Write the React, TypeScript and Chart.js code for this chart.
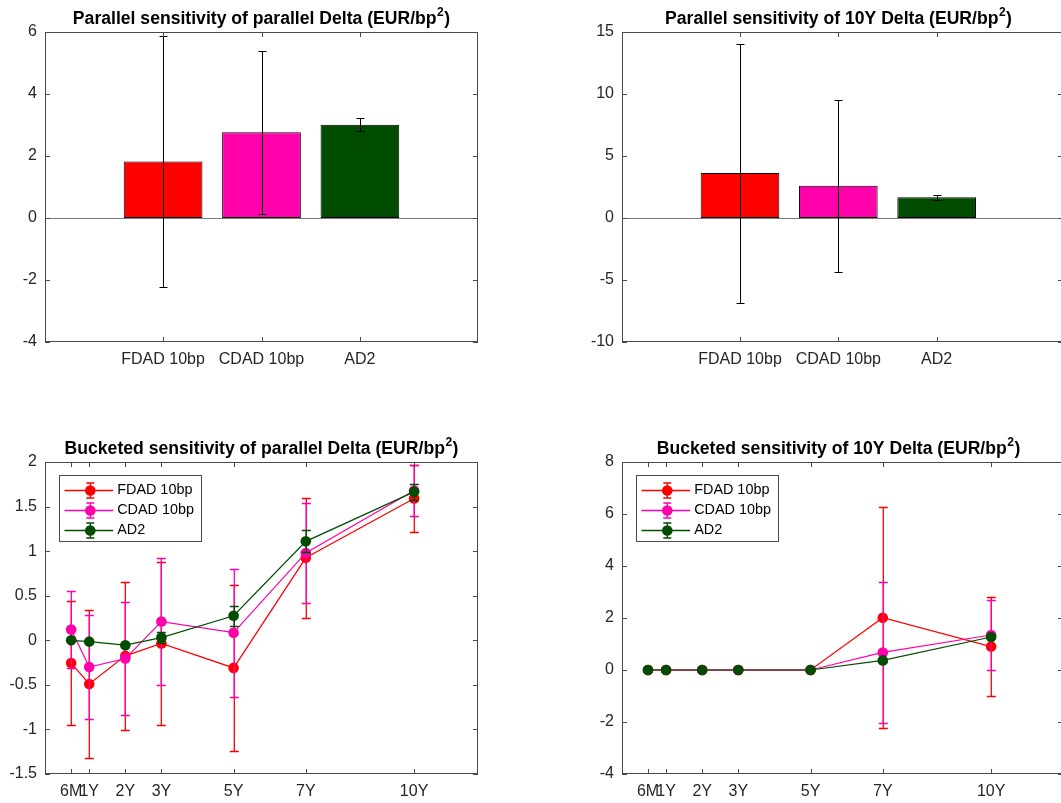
import React, { useEffect, useRef } from 'react';
import { Chart, registerables } from 'chart.js';

Chart.register(...registerables);

// ---------------- data ----------------
const SERIES_NAMES = ['FDAD 10bp', 'CDAD 10bp', 'AD2'];
const SERIES_COLORS = ['#FF0000', '#FF00AA', '#004C00'];

const BAR_X = [1, 2, 3];
const PAR_BAR_VALUES = [1.82, 2.77, 3.01];
const PAR_BAR_ERRORS = [4.06, 2.63, 0.21];
const TEN_BAR_VALUES = [3.62, 2.6, 1.67];
const TEN_BAR_ERRORS = [10.44, 6.95, 0.22];

const PAR_BAR_Y_TICKS = [-4, -2, 0, 2, 4, 6];
const TEN_BAR_Y_TICKS = [-10, -5, 0, 5, 10, 15];
const PAR_BUCKET_Y_TICKS = [-1.5, -1, -0.5, 0, 0.5, 1, 1.5, 2];
const TEN_BUCKET_Y_TICKS = [-4, -2, 0, 2, 4, 6, 8];

const BUCKET_LABELS = ['6M', '1Y', '2Y', '3Y', '5Y', '7Y', '10Y'];
const BUCKET_X = [0.5, 1, 2, 3, 5, 7, 10];

const PAR_FDAD = [-0.255, -0.49, -0.175, -0.035, -0.31, 0.925, 1.59];
const PAR_FDAD_ERR = [0.695, 0.835, 0.83, 0.91, 0.93, 0.67, 0.375];
const PAR_CDAD = [0.12, -0.3, -0.205, 0.21, 0.085, 0.98, 1.68];
const PAR_CDAD_ERR = [0.43, 0.58, 0.635, 0.71, 0.72, 0.56, 0.29];
const PAR_AD2 = [0, -0.015, -0.055, 0.03, 0.275, 1.11, 1.665];
const PAR_AD2_ERR = [0.01, 0.02, 0.02, 0.06, 0.11, 0.125, 0.09];

const TEN_FDAD = [0, 0, 0, 0, 0, 2.01, 0.9];
const TEN_FDAD_ERR = [0, 0, 0, 0, 0, 4.25, 1.89];
const TEN_CDAD = [0, 0, 0, 0, 0, 0.675, 1.345];
const TEN_CDAD_ERR = [0, 0, 0, 0, 0, 2.72, 1.345];
const TEN_AD2 = [0, 0, 0, 0, 0, 0.37, 1.27];
const TEN_AD2_ERR = [0, 0, 0, 0, 0, 0.05, 0.05];

const TITLE_PAR_BAR = 'Parallel sensitivity of parallel Delta';
const TITLE_TEN_BAR = 'Parallel sensitivity of 10Y Delta';
const TITLE_PAR_BUCKET = 'Bucketed sensitivity of parallel Delta';
const TITLE_TEN_BUCKET = 'Bucketed sensitivity of 10Y Delta';
const UNIT = 'EUR/bp';

// ---------------- styling ----------------
const FONT = "'Liberation Sans', Arial, Helvetica, sans-serif";
const TEXT = '#262626';
const BOX = '#4a4a4a';

function drawErrorBars(chart: any, ds: any, color: string, cap: number, lw: number, align: number) {
  const { ctx, scales } = chart;
  const xs = scales.x;
  const ys = scales.y;
  const errs: number[] = ds.errors || [];
  ctx.save();
  ctx.globalAlpha = 1;
  ctx.setLineDash([]);
  ctx.strokeStyle = color;
  ctx.lineWidth = lw;
  ds.data.forEach((p: any, i: number) => {
    const e = errs[i];
    if (e === undefined) return;
    const px = Math.round(xs.getPixelForValue(p.x)) + align;
    const yt = Math.round(ys.getPixelForValue(p.y + e)) + 0.5;
    const yb = Math.round(ys.getPixelForValue(p.y - e)) + 0.5;
    ctx.beginPath();
    ctx.moveTo(px, yt);
    ctx.lineTo(px, yb);
    ctx.moveTo(px - cap, yt);
    ctx.lineTo(px + cap, yt);
    ctx.moveTo(px - cap, yb);
    ctx.lineTo(px + cap, yb);
    ctx.stroke();
  });
  ctx.restore();
}

const matlabPlugin = {
  id: 'matlab',
  beforeDatasetsDraw(chart: any, _a: any, o: any) {
    if (!o.baseline) return;
    const { ctx, chartArea: a, scales } = chart;
    const py = Math.round(scales.y.getPixelForValue(0)) + 0.5;
    ctx.save();
    ctx.strokeStyle = '#7a7a7a';
    ctx.lineWidth = 1;
    ctx.beginPath();
    ctx.moveTo(a.left, py);
    ctx.lineTo(a.right, py);
    ctx.stroke();
    ctx.restore();
  },
  beforeDatasetDraw(chart: any, args: any, o: any) {
    if (o.barErrors) return;
    const ds = chart.data.datasets[args.index];
    drawErrorBars(chart, ds, SERIES_COLORS[args.index], 4.5, 1.3, 0.3);
  },
  afterDatasetsDraw(chart: any, _a: any, o: any) {
    const { ctx, chartArea: a, scales } = chart;
    if (o.barErrors) {
      chart.data.datasets.forEach((ds: any) => drawErrorBars(chart, ds, '#000000', 4, 1, 0.5));
    }
    ctx.save();
    ctx.strokeStyle = BOX;
    ctx.lineWidth = 1;
    ctx.strokeRect(a.left + 0.5, a.top + 0.5, a.right - a.left - 1, a.bottom - a.top - 1);
    ctx.beginPath();
    scales.y.ticks.forEach((t: any) => {
      const py = Math.round(scales.y.getPixelForValue(t.value)) + 0.5;
      ctx.moveTo(a.left, py);
      ctx.lineTo(a.left + 5, py);
      ctx.moveTo(a.right - 5, py);
      ctx.lineTo(a.right, py);
    });
    scales.x.ticks.forEach((t: any) => {
      const px = Math.round(scales.x.getPixelForValue(t.value)) + 0.5;
      ctx.moveTo(px, a.bottom);
      ctx.lineTo(px, a.bottom - 5);
      ctx.moveTo(px, a.top);
      ctx.lineTo(px, a.top + 5);
    });
    ctx.stroke();
    ctx.restore();
  },
  afterDraw(chart: any, _a: any, o: any) {
    const { ctx, chartArea: a } = chart;
    ctx.save();
    // title with superscript
    const main = `${o.title} (${UNIT}`;
    const fMain = `bold 17.6px ${FONT}`;
    const fSup = `bold 12px ${FONT}`;
    ctx.font = fMain;
    const w1 = ctx.measureText(main).width;
    const w3 = ctx.measureText(')').width;
    ctx.font = fSup;
    const w2 = ctx.measureText('2').width;
    const total = w1 + w2 + w3 + 1;
    const cx = a.left + 216.5;
    const base = a.top - 8.5;
    const x0 = cx - total / 2;
    ctx.fillStyle = '#000000';
    ctx.textBaseline = 'alphabetic';
    ctx.textAlign = 'left';
    ctx.font = fMain;
    ctx.fillText(main, x0, base);
    ctx.font = fSup;
    ctx.fillText('2', x0 + w1 + 0.5, base - 7.5);
    ctx.font = fMain;
    ctx.fillText(')', x0 + w1 + w2 + 1, base);

    if (o.legend) {
      const bx = Math.round(a.left + 14) + 0.5;
      const by = Math.round(a.top + 13) + 0.5;
      ctx.font = `14.4px ${FONT}`;
      const names = chart.data.datasets.map((d: any) => d.label);
      const tw = Math.max(...names.map((n: string) => ctx.measureText(n).width));
      const w = Math.round(57.7 + tw + 8);
      const h = 66;
      ctx.fillStyle = '#ffffff';
      ctx.fillRect(bx, by, w, h);
      ctx.strokeStyle = BOX;
      ctx.lineWidth = 1;
      ctx.strokeRect(bx, by, w, h);
      chart.data.datasets.forEach((d: any, i: number) => {
        const col = SERIES_COLORS[i];
        const cy = Math.round(by + 14 + 20 * i) + 0.5;
        const mx = Math.round(bx + 30) + 0.3;
        ctx.strokeStyle = col;
        ctx.lineWidth = 1.3;
        ctx.beginPath();
        ctx.moveTo(bx + 5, cy);
        ctx.lineTo(bx + 53.7, cy);
        ctx.moveTo(mx, cy - 7.5);
        ctx.lineTo(mx, cy + 7.5);
        ctx.moveTo(mx - 4, cy - 7.5);
        ctx.lineTo(mx + 4, cy - 7.5);
        ctx.moveTo(mx - 4, cy + 7.5);
        ctx.lineTo(mx + 4, cy + 7.5);
        ctx.stroke();
        ctx.fillStyle = col;
        ctx.beginPath();
        ctx.arc(mx, cy, 5.3, 0, Math.PI * 2);
        ctx.fill();
        ctx.fillStyle = '#000000';
        ctx.textBaseline = 'middle';
        ctx.fillText(d.label, bx + 57.7, cy);
      });
    }
    ctx.restore();
  },
};

interface Frame {
  width: number;
  height: number;
  yWidth: number;
  padTop: number;
  padRight: number;
  xHeight: number;
}

function scalesFor(frame: Frame, xMin: number, xMax: number, xTicks: number[], xLabels: string[], yTicks: number[]) {
  const tickFont = { family: FONT, size: 16 };
  return {
    x: {
      type: 'linear',
      min: xMin,
      max: xMax,
      offset: false,
      bounds: 'data',
      grace: 0,
      grid: { display: false, drawTicks: false, offset: false },
      border: { display: false },
      ticks: {
        autoSkip: false,
        maxRotation: 0,
        minRotation: 0,
        padding: 8,
        color: TEXT,
        font: tickFont,
        callback: (_v: any, i: number) => xLabels[i],
      },
      afterBuildTicks: (s: any) => {
        s.ticks = xTicks.map((v) => ({ value: v }));
      },
      afterDataLimits: (s: any) => {
        s.min = xMin;
        s.max = xMax;
      },
      afterFit: (s: any) => {
        s.height = frame.xHeight;
      },
    },
    y: {
      type: 'linear',
      min: yTicks[0],
      max: yTicks[yTicks.length - 1],
      beginAtZero: false,
      grid: { display: false, drawTicks: false },
      border: { display: false },
      ticks: {
        padding: 8,
        color: TEXT,
        font: tickFont,
        callback: (v: any) => String(v),
      },
      afterBuildTicks: (s: any) => {
        s.ticks = yTicks.map((v) => ({ value: v }));
      },
      afterFit: (s: any) => {
        s.width = frame.yWidth;
      },
    },
  };
}

function baseOptions(frame: Frame) {
  return {
    responsive: false,
    animation: false,
    events: [],
    layout: { padding: { left: 0, top: frame.padTop, right: frame.padRight, bottom: 0 } },
  };
}

function barConfig(frame: Frame, values: number[], errors: number[], yTicks: number[], xMin: number, xMax: number, title: string) {
  return {
    type: 'bar',
    data: {
      datasets: [
        {
          label: 'sensitivity',
          data: BAR_X.map((x, i) => ({ x, y: values[i] })),
          errors,
          backgroundColor: SERIES_COLORS,
          borderColor: '#000000',
          borderWidth: 1,
          borderSkipped: false,
          barPercentage: 0.8,
          categoryPercentage: 1,
        },
      ],
    },
    options: {
      ...baseOptions(frame),
      scales: scalesFor(frame, xMin, xMax, BAR_X, SERIES_NAMES, yTicks),
      plugins: {
        legend: { display: false },
        title: { display: false },
        tooltip: { enabled: false },
        matlab: { baseline: true, barErrors: true, title, legend: false },
      },
    },
    plugins: [matlabPlugin],
  };
}

function lineConfig(frame: Frame, series: number[][], errs: number[][], yTicks: number[], xMin: number, xMax: number, title: string) {
  return {
    type: 'line',
    data: {
      datasets: series.map((vals, k) => ({
        label: SERIES_NAMES[k],
        data: BUCKET_X.map((x, i) => ({ x, y: vals[i] })),
        errors: errs[k],
        borderColor: SERIES_COLORS[k],
        backgroundColor: SERIES_COLORS[k],
        borderWidth: 1.2,
        pointRadius: 5.3,
        pointBorderWidth: 0,
        pointBackgroundColor: SERIES_COLORS[k],
        pointBorderColor: SERIES_COLORS[k],
        tension: 0,
        fill: false,
        order: series.length - 1 - k,
      })),
    },
    options: {
      ...baseOptions(frame),
      scales: scalesFor(frame, xMin, xMax, BUCKET_X, BUCKET_LABELS, yTicks),
      plugins: {
        legend: { display: false },
        title: { display: false },
        tooltip: { enabled: false },
        matlab: { baseline: false, barErrors: false, title, legend: true },
      },
    },
    plugins: [matlabPlugin],
  };
}

function Panel({ left, top, frame, build }: { left: number; top: number; frame: Frame; build: () => any }) {
  const ref = useRef<HTMLCanvasElement>(null);
  useEffect(() => {
    const chart = new Chart(ref.current as HTMLCanvasElement, build());
    return () => chart.destroy();
  }, []);
  return (
    <canvas
      ref={ref}
      width={frame.width}
      height={frame.height}
      style={{ position: 'absolute', left, top, width: frame.width, height: frame.height }}
    />
  );
}

const TOP_LEFT: Frame = { width: 530, height: 400, yWidth: 45, padTop: 32, padRight: 52, xHeight: 58 };
const TOP_RIGHT: Frame = { width: 541, height: 400, yWidth: 92, padTop: 32, padRight: 8, xHeight: 58 };
const BOT_LEFT: Frame = { width: 530, height: 403, yWidth: 45, padTop: 62, padRight: 52, xHeight: 29 };
const BOT_RIGHT: Frame = { width: 541, height: 403, yWidth: 92, padTop: 62, padRight: 8, xHeight: 29 };

export default function App() {
  return (
    <div
      style={{
        position: 'absolute',
        left: 0,
        top: 0,
        width: 1061,
        height: 803,
        overflow: 'hidden',
        background: '#ffffff',
      }}
    >
      <Panel
        left={0}
        top={0}
        frame={TOP_LEFT}
        build={() => barConfig(TOP_LEFT, PAR_BAR_VALUES, PAR_BAR_ERRORS, PAR_BAR_Y_TICKS, -0.2, 4.2, TITLE_PAR_BAR)}
      />
      <Panel
        left={530}
        top={0}
        frame={TOP_RIGHT}
        build={() => barConfig(TOP_RIGHT, TEN_BAR_VALUES, TEN_BAR_ERRORS, TEN_BAR_Y_TICKS, -0.2, 4.285, TITLE_TEN_BAR)}
      />
      <Panel
        left={0}
        top={400}
        frame={BOT_LEFT}
        build={() =>
          lineConfig(
            BOT_LEFT,
            [PAR_FDAD, PAR_CDAD, PAR_AD2],
            [PAR_FDAD_ERR, PAR_CDAD_ERR, PAR_AD2_ERR],
            PAR_BUCKET_Y_TICKS,
            -0.225,
            11.77,
            TITLE_PAR_BUCKET
          )
        }
      />
      <Panel
        left={530}
        top={400}
        frame={BOT_RIGHT}
        build={() =>
          lineConfig(
            BOT_RIGHT,
            [TEN_FDAD, TEN_CDAD, TEN_AD2],
            [TEN_FDAD_ERR, TEN_CDAD_ERR, TEN_AD2_ERR],
            TEN_BUCKET_Y_TICKS,
            -0.22,
            11.99,
            TITLE_TEN_BUCKET
          )
        }
      />
    </div>
  );
}
